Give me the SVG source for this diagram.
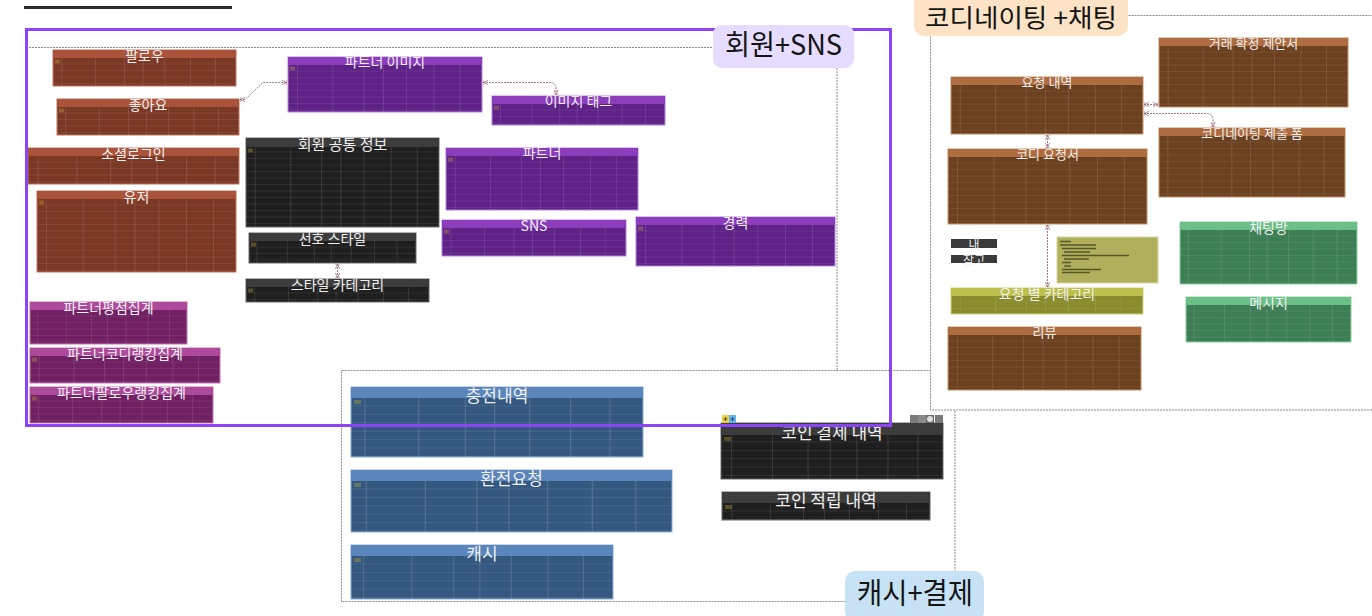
<svg xmlns="http://www.w3.org/2000/svg" width="1372" height="616" viewBox="0 0 1372 616">
<style>
.title{font-family:"Noto Sans CJK KR","Noto Sans",sans-serif;fill:#f0f0f0;text-anchor:middle}
.rd .b{fill:#7b3825;stroke:#c27763}.rd .h{fill:#a9533b}
.pu .b{fill:#5f2287;stroke:#b683e0}.pu .h{fill:#8b3dbc}
.dk .b{fill:#1f1f1f;stroke:#6a6a6a}.dk .h{fill:#3c3c3c}
.mg .b{fill:#712163;stroke:#c876b6}.mg .h{fill:#ad4a9b}
.bl .b{fill:#34587f;stroke:#8fb0d8}.bl .h{fill:#5a86bc}
.br .b{fill:#6c4120;stroke:#c79366}.br .h{fill:#ad6d40}
.ol .b{fill:#8a8b2c;stroke:#d3d47a}.ol .h{fill:#bdbf4b}
.gr .b{fill:#3d7e54;stroke:#8fd3a5}.gr .h{fill:#6bbf87}
.key{fill:#c9a83a;opacity:.35}
.grp{fill:none;stroke:#8a8a8a;stroke-width:1;stroke-dasharray:2 1}
.con{fill:none;stroke:#a27783;stroke-width:1;stroke-dasharray:2 1}
.lbl{font-family:"Noto Sans CJK KR","Noto Sans",sans-serif;fill:#141414;font-weight:400}
.small{font-family:"Noto Sans CJK KR","Noto Sans",sans-serif;fill:#f0f0f0;text-anchor:middle;font-size:12px}
</style>
<defs>
<pattern id="rowsA" patternUnits="userSpaceOnUse" x="0" y="8" width="10" height="6.5"><rect y="6" width="10" height="0.6" fill="#ffffff" opacity="0.13"/></pattern>
<pattern id="rowsB" patternUnits="userSpaceOnUse" x="0" y="11" width="10" height="8.4"><rect y="7.8" width="10" height="0.6" fill="#ffffff" opacity="0.13"/></pattern>
<pattern id="cols" patternUnits="objectBoundingBox" patternContentUnits="objectBoundingBox" x="0" y="0" width="1" height="1">
<g fill="#ffffff" opacity="0.13"><rect x="0.046" width="0.004" height="1"/><rect x="0.23" width="0.004" height="1"/><rect x="0.39" width="0.004" height="1"/><rect x="0.49" width="0.004" height="1"/><rect x="0.61" width="0.004" height="1"/><rect x="0.75" width="0.004" height="1"/><rect x="0.885" width="0.004" height="1"/></g>
</pattern>
<marker id="ar" viewBox="0 0 6 6" refX="6" refY="3" markerWidth="5" markerHeight="5" orient="auto-start-reverse"><path d="M0,0.5 L6,3 L0,5.5 M6,0 V6" fill="none" stroke="#a27783" stroke-width="1"/></marker>
</defs>

<rect x="24" y="6" width="208" height="3" fill="#2b2b2b"/>

<g id="groups">
<path class="grp" d="M29,47.5 H713 M837,68 V370"/>
<rect class="grp" x="341.5" y="370.5" width="613.5" height="231"/>
<rect x="930.5" y="15.5" width="460" height="394.5" fill="#ffffff" stroke="#8a8a8a" stroke-dasharray="2 1"/>
</g>

<g id="connectors">
<path class="con" d="M240,99.5 L245,99.5 L263,82.5 L287,82.5" marker-start="url(#ar)" marker-end="url(#ar)"/>
<path class="con" d="M483,82.5 L550,82.5 Q556,82.5 556,89 L556,95" marker-start="url(#ar)" marker-end="url(#ar)"/>
<path class="con" d="M337.5,264 L337.5,278" marker-start="url(#ar)" marker-end="url(#ar)"/>
<path class="con" d="M1144,104.5 L1158,104.5" marker-start="url(#ar)" marker-end="url(#ar)"/>
<path class="con" d="M1144,113.5 L1206,113.5 Q1213,113.5 1213,120 L1213,127" marker-start="url(#ar)" marker-end="url(#ar)"/>
<path class="con" d="M1047.5,135 L1047.5,148" marker-start="url(#ar)" marker-end="url(#ar)"/>
<path class="con" d="M1047.5,225 L1047.5,287" marker-start="url(#ar)" marker-end="url(#ar)"/>
</g>

<g id="t-follow" class="rd" transform="translate(53,50)"><rect class="b" width="183" height="36"/><rect class="h" width="183" height="8"/><rect y="8" width="183" height="28" fill="url(#rowsA)"/><rect y="8" width="183" height="28" fill="url(#cols)"/><rect class="key" x="2" y="9.5" width="5" height="4"/><text class="title" x="91.5" y="10.5" font-size="14">팔로우</text></g>
<g id="t-like" class="rd" transform="translate(57,99)"><rect class="b" width="182" height="36"/><rect class="h" width="182" height="8"/><rect y="8" width="182" height="28" fill="url(#rowsA)"/><rect y="8" width="182" height="28" fill="url(#cols)"/><rect class="key" x="2" y="9.5" width="5" height="4"/><text class="title" x="91" y="10.5" font-size="14">좋아요</text></g>
<g id="t-social" class="rd" transform="translate(28,148)"><rect class="b" width="211" height="36"/><rect class="h" width="211" height="8"/><rect y="8" width="211" height="28" fill="url(#rowsA)"/><rect y="8" width="211" height="28" fill="url(#cols)"/><text class="title" x="105.5" y="10.5" font-size="14">소셜로그인</text></g>
<g id="t-user" class="rd" transform="translate(37,191)"><rect class="b" width="199" height="81"/><rect class="h" width="199" height="8"/><rect y="8" width="199" height="73" fill="url(#rowsA)"/><rect y="8" width="199" height="73" fill="url(#cols)"/><rect class="key" x="2" y="9.5" width="5" height="4"/><text class="title" x="99.5" y="10.5" font-size="14">유저</text></g>

<g id="t-pimg" class="pu" transform="translate(288,57)"><rect class="b" width="194" height="55"/><rect class="h" width="194" height="8"/><rect y="8" width="194" height="47" fill="url(#rowsA)"/><rect y="8" width="194" height="47" fill="url(#cols)"/><rect class="key" x="2" y="9.5" width="5" height="4"/><text class="title" x="97" y="10" font-size="14">파트너 이미지</text></g>
<g id="t-imgtag" class="pu" transform="translate(492,96)"><rect class="b" width="173" height="29"/><rect class="h" width="173" height="8"/><rect y="8" width="173" height="21" fill="url(#rowsA)"/><rect y="8" width="173" height="21" fill="url(#cols)"/><rect class="key" x="2" y="9.5" width="5" height="4"/><text class="title" x="86.5" y="10" font-size="14">이미지 태그</text></g>
<g id="t-partner" class="pu" transform="translate(446,148)"><rect class="b" width="192" height="62"/><rect class="h" width="192" height="8"/><rect y="8" width="192" height="54" fill="url(#rowsA)"/><rect y="8" width="192" height="54" fill="url(#cols)"/><rect class="key" x="2" y="9.5" width="5" height="4"/><text class="title" x="96" y="10" font-size="14">파트너</text></g>
<g id="t-sns" class="pu" transform="translate(442,220)"><rect class="b" width="184" height="36"/><rect class="h" width="184" height="8"/><rect y="8" width="184" height="28" fill="url(#rowsA)"/><rect y="8" width="184" height="28" fill="url(#cols)"/><rect class="key" x="2" y="9.5" width="5" height="4"/><text class="title" x="92" y="11" font-size="14">SNS</text></g>
<g id="t-career" class="pu" transform="translate(636,217)"><rect class="b" width="199" height="49"/><rect class="h" width="199" height="8"/><rect y="8" width="199" height="41" fill="url(#rowsA)"/><rect y="8" width="199" height="41" fill="url(#cols)"/><rect class="key" x="2" y="9.5" width="5" height="4"/><text class="title" x="99.5" y="10.5" font-size="14">경력</text></g>

<g id="t-member" class="dk" transform="translate(246,138)"><rect class="b" width="193" height="89"/><rect class="h" width="193" height="9"/><rect y="9" width="193" height="80" fill="url(#rowsA)"/><rect y="9" width="193" height="80" fill="url(#cols)"/><rect class="key" x="2" y="10.5" width="5" height="4"/><text class="title" x="96.5" y="12" font-size="15">회원 공통 정보</text></g>
<g id="t-prefstyle" class="dk" transform="translate(249,233)"><rect class="b" width="167" height="30"/><rect class="h" width="167" height="8"/><rect y="8" width="167" height="22" fill="url(#rowsA)"/><rect y="8" width="167" height="22" fill="url(#cols)"/><rect class="key" x="2" y="9.5" width="5" height="4"/><text class="title" x="83.5" y="10.5" font-size="14">선호 스타일</text></g>
<g id="t-stylecat" class="dk" transform="translate(246,279)"><rect class="b" width="183" height="23"/><rect class="h" width="183" height="8"/><rect y="8" width="183" height="15" fill="url(#rowsA)"/><rect y="8" width="183" height="15" fill="url(#cols)"/><rect class="key" x="2" y="9.5" width="5" height="4"/><text class="title" x="91.5" y="10.5" font-size="14">스타일 카테고리</text></g>

<g id="t-rating" class="mg" transform="translate(30,302)"><rect class="b" width="157" height="42"/><rect class="h" width="157" height="8"/><rect y="8" width="157" height="34" fill="url(#rowsA)"/><rect y="8" width="157" height="34" fill="url(#cols)"/><text class="title" x="78.5" y="10.5" font-size="14">파트너평점집계</text></g>
<g id="t-codirank" class="mg" transform="translate(30,348)"><rect class="b" width="190" height="35"/><rect class="h" width="190" height="8"/><rect y="8" width="190" height="27" fill="url(#rowsA)"/><rect y="8" width="190" height="27" fill="url(#cols)"/><rect class="key" x="2" y="9.5" width="5" height="4"/><text class="title" x="95" y="10.5" font-size="14">파트너코디랭킹집계</text></g>
<g id="t-followrank" class="mg" transform="translate(30,387)"><rect class="b" width="183" height="36"/><rect class="h" width="183" height="8"/><rect y="8" width="183" height="28" fill="url(#rowsA)"/><rect y="8" width="183" height="28" fill="url(#cols)"/><rect class="key" x="2" y="9.5" width="5" height="4"/><text class="title" x="91.5" y="10.5" font-size="14">파트너팔로우랭킹집계</text></g>

<g id="t-charge" class="bl" transform="translate(351,387)"><rect class="b" width="292" height="70"/><rect class="h" width="292" height="11"/><rect y="11" width="292" height="59" fill="url(#rowsB)"/><rect y="11" width="292" height="59" fill="url(#cols)"/><rect class="key" x="3" y="13" width="7" height="4"/><text class="title" x="146" y="14.5" font-size="17">충전내역</text></g>
<g id="t-exchange" class="bl" transform="translate(351,470)"><rect class="b" width="321" height="62"/><rect class="h" width="321" height="11"/><rect y="11" width="321" height="51" fill="url(#rowsB)"/><rect y="11" width="321" height="51" fill="url(#cols)"/><rect class="key" x="3" y="13" width="7" height="4"/><text class="title" x="160.5" y="14.5" font-size="17">환전요청</text></g>
<g id="t-cash" class="bl" transform="translate(351,545)"><rect class="b" width="262" height="54"/><rect class="h" width="262" height="11"/><rect y="11" width="262" height="43" fill="url(#rowsB)"/><rect y="11" width="262" height="43" fill="url(#cols)"/><rect class="key" x="3" y="13" width="7" height="4"/><text class="title" x="131" y="14.5" font-size="17">캐시</text></g>

<g id="t-coinpay" class="dk" transform="translate(721,423)"><rect class="b" width="222" height="56"/><rect class="h" width="222" height="12"/><rect y="12" width="222" height="44" fill="url(#rowsB)"/><rect y="12" width="222" height="44" fill="url(#cols)"/><rect class="key" x="3" y="14" width="7" height="4"/><text class="title" x="111" y="15.5" font-size="17">코인 결제 내역</text></g>
<g id="t-coinearn" class="dk" transform="translate(722,492)"><rect class="b" width="208" height="28"/><rect class="h" width="208" height="11"/><rect y="11" width="208" height="17" fill="url(#rowsB)"/><rect y="11" width="208" height="17" fill="url(#cols)"/><rect class="key" x="3" y="13" width="7" height="4"/><text class="title" x="104" y="15" font-size="17">코인 적립 내역</text></g>
<g id="coin-icons">
<rect x="722" y="415" width="7" height="8" fill="#f0d040"/><rect x="729" y="415" width="7" height="8" fill="#5ab4f0"/>
<path d="M725.5,417 V421 M723.5,419 H727.5 M732.5,417 V421 M730.5,419 H734.5" stroke="#333" stroke-width="0.8"/>
<rect x="910" y="415" width="8" height="8" fill="#7a7a7a"/><rect x="918" y="415" width="8" height="8" fill="#8a8a8a"/><rect x="926" y="415" width="8" height="8" fill="#6a6a6a"/><circle cx="930" cy="419" r="3" fill="#e0e0e0"/><rect x="935" y="415" width="8" height="8" fill="#7a7a7a"/>
</g>

<g id="t-deal" class="br" transform="translate(1159,38)"><rect class="b" width="189" height="69"/><rect class="h" width="189" height="8"/><rect y="8" width="189" height="61" fill="url(#rowsA)"/><rect y="8" width="189" height="61" fill="url(#cols)"/><text class="title" x="94.5" y="10" font-size="13">거래 확정 제안서</text></g>
<g id="t-reqhist" class="br" transform="translate(951,77)"><rect class="b" width="192" height="57"/><rect class="h" width="192" height="8"/><rect y="8" width="192" height="49" fill="url(#rowsA)"/><rect y="8" width="192" height="49" fill="url(#cols)"/><text class="title" x="96" y="10" font-size="13">요청 내역</text></g>
<g id="t-submit" class="br" transform="translate(1159,128)"><rect class="b" width="186" height="69"/><rect class="h" width="186" height="8"/><rect y="8" width="186" height="61" fill="url(#rowsA)"/><rect y="8" width="186" height="61" fill="url(#cols)"/><text class="title" x="93" y="10" font-size="13">코디네이팅 제출 폼</text></g>
<g id="t-codireq" class="br" transform="translate(948,149)"><rect class="b" width="199" height="75"/><rect class="h" width="199" height="8"/><rect y="8" width="199" height="67" fill="url(#rowsA)"/><rect y="8" width="199" height="67" fill="url(#cols)"/><text class="title" x="99.5" y="10" font-size="13">코디 요청서</text></g>
<g id="t-review" class="br" transform="translate(948,327)"><rect class="b" width="193" height="63"/><rect class="h" width="193" height="8"/><rect y="8" width="193" height="55" fill="url(#rowsA)"/><rect y="8" width="193" height="55" fill="url(#cols)"/><text class="title" x="96.5" y="10" font-size="13">리뷰</text></g>
<g id="t-reqcat" class="ol" transform="translate(951,288)"><rect class="b" width="192" height="26"/><rect class="h" width="192" height="8"/><rect y="8" width="192" height="18" fill="url(#rowsA)"/><rect y="8" width="192" height="18" fill="url(#cols)"/><text class="title" x="96" y="10.5" font-size="14">요청 별 카테고리</text></g>
<g id="t-chatroom" class="gr" transform="translate(1180,222)"><rect class="b" width="177" height="62"/><rect class="h" width="177" height="8"/><rect y="8" width="177" height="54" fill="url(#rowsA)"/><rect y="8" width="177" height="54" fill="url(#cols)"/><text class="title" x="88.5" y="10.5" font-size="14">채팅방</text></g>
<g id="t-message" class="gr" transform="translate(1186,297)"><rect class="b" width="165" height="45"/><rect class="h" width="165" height="8"/><rect y="8" width="165" height="37" fill="url(#rowsA)"/><rect y="8" width="165" height="37" fill="url(#cols)"/><text class="title" x="82.5" y="10.5" font-size="14">메시지</text></g>

<g id="tag-me"><rect x="951" y="239" width="46" height="9" fill="#3a3a3a"/><text class="small" x="974" y="249">내</text></g>
<g id="tag-ref"><rect x="951" y="255" width="46" height="8" fill="#3a3a3a"/><text class="small" x="974" y="265">참고</text></g>
<g id="note">
<rect x="1057" y="237" width="101" height="46" fill="#b1af5c" stroke="#d8d79e"/>
<path d="M1060,241.5 H1071 M1060,245 H1096 M1062,248.5 H1096 M1064,252 H1090 M1062,255.5 H1129 M1064,259 H1089 M1062,262.5 H1071 M1064,266 H1071 M1062,269.5 H1101 M1062,272.5 H1090" stroke="#3a3a1a" stroke-width="1.4" opacity="0.75"/>
</g>

<rect id="sns-frame" x="26.5" y="29.5" width="864" height="396" fill="none" stroke="#8c44f7" stroke-width="3"/>

<g id="lbl-sns"><rect x="713" y="25" width="141" height="43" rx="9" fill="#e6dcff"/><text class="lbl" x="725" y="55" font-size="28" textLength="117" lengthAdjust="spacingAndGlyphs">회원+SNS</text></g>
<g id="lbl-codi"><rect x="914" y="-12" width="214" height="48" rx="10" fill="#fde3c6"/><text class="lbl" x="925" y="27" font-size="25" textLength="192" lengthAdjust="spacingAndGlyphs">코디네이팅 +채팅</text></g>
<g id="lbl-cash"><rect x="845" y="571" width="139" height="50" rx="10" fill="#c8e2f5"/><text class="lbl" x="857" y="604" font-size="29" textLength="116" lengthAdjust="spacingAndGlyphs">캐시+결제</text></g>
</svg>
